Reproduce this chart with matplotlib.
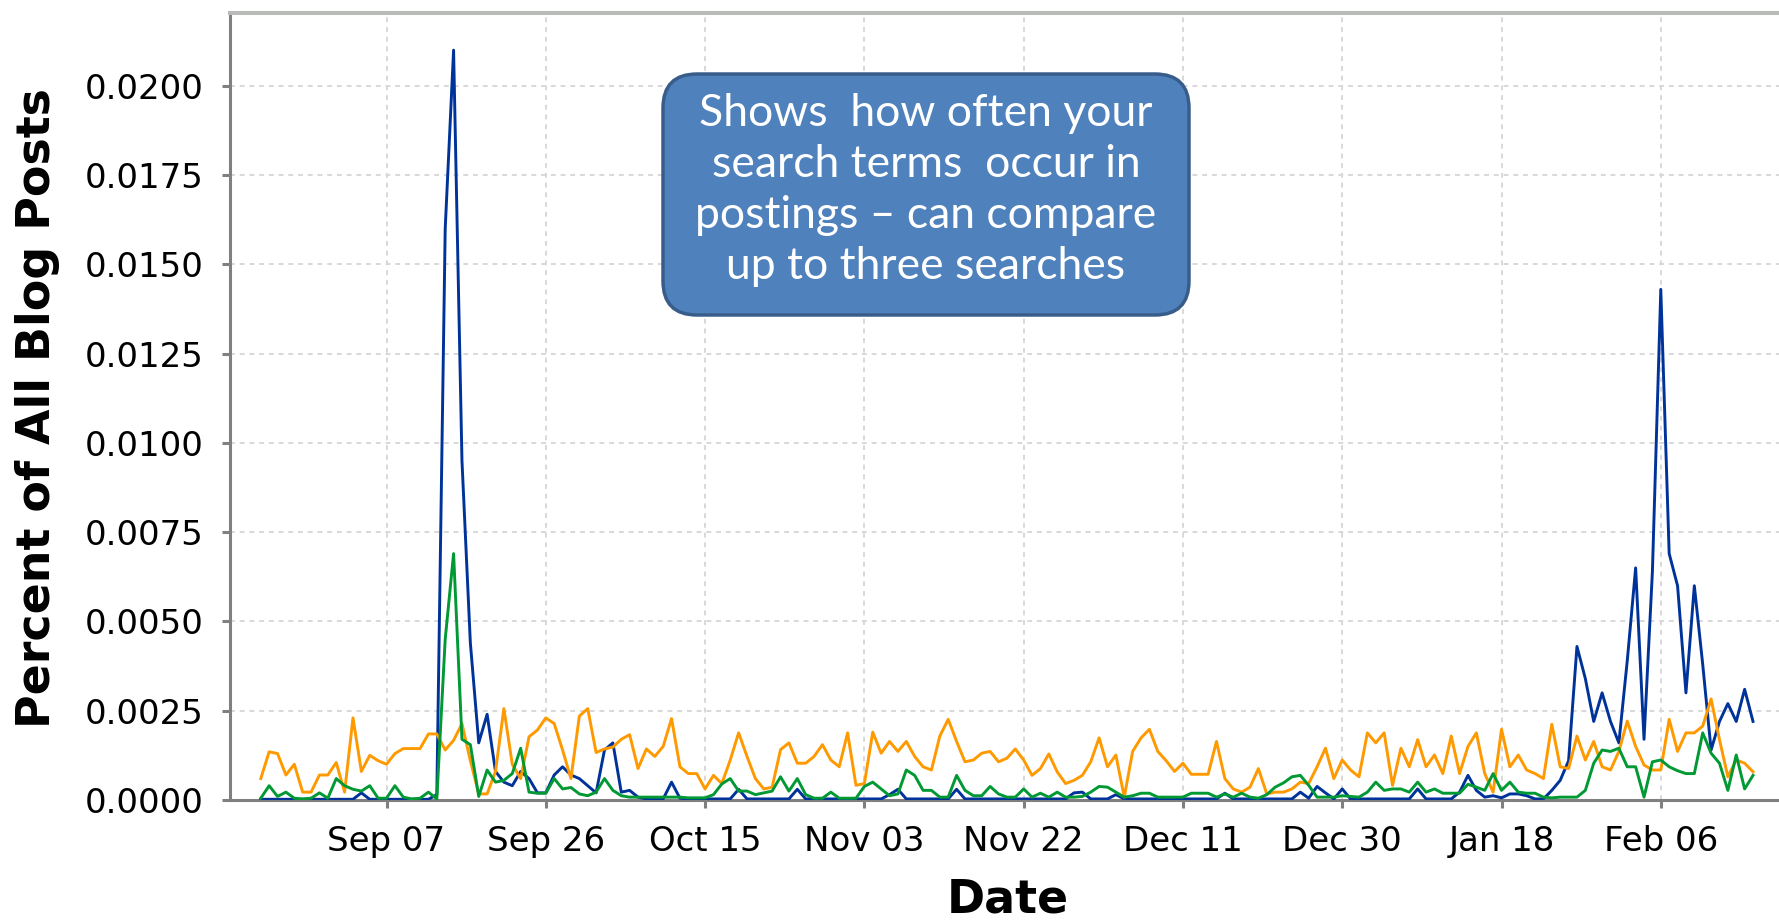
import matplotlib
matplotlib.use("Agg")
import matplotlib.pyplot as plt
import matplotlib.dates as mdates
import matplotlib.transforms as mtransforms
from matplotlib.patches import FancyBboxPatch
import numpy as np
import pandas as pd

# ---------------- data (values in units of 0.0001 percent), daily from start_date ----------------
start_date = "2007-08-23"
scale = 1e-4

series_blue = [
    0.2, 0.2, 0.2, 0.2, 0.2, 0.2, 0.2, 0.2, 0.2, 0.2, 0.2, 0.2, 2.0, 0.2, 0.2,
    0.2, 0.2, 0.2, 0.2, 0.2, 0.2, 1.5, 160, 210, 95, 44, 16, 24, 8, 5,
    4, 8, 6, 2, 2, 7, 9.3, 7, 6, 4, 2, 14, 16, 2.2, 2.7,
    0.8, 0.3, 0.3, 0.3, 5, 0.5, 0.3, 0.3, 0.3, 0.3, 0.3, 0.3, 3, 0.3, 0.3,
    0.3, 0.3, 0.3, 0.3, 3, 0.3, 0.3, 0.3, 0.3, 0.3, 0.3, 0.3, 0.3, 0.3, 0.3,
    1.5, 3, 0.3, 0.3, 0.3, 0.3, 0.3, 0.3, 3, 0.3, 0.3, 0.3, 0.3, 0.3, 0.3,
    0.3, 0.3, 0.3, 0.3, 0.3, 0.3, 0.3, 2, 2.2, 0.3, 0.3, 0.3, 1.5, 0.3, 0.3,
    0.3, 0.3, 0.3, 0.3, 0.3, 0.3, 0.3, 0.3, 0.3, 0.3, 1.9, 0.3, 0.3, 0.3, 0.3,
    0.3, 0.3, 0.3, 0.3, 2.2, 0.5, 3.8, 2, 0.3, 3.1, 0.3, 0.3, 0.3, 0.3, 0.3,
    0.3, 0.3, 0.3, 3.1, 0.3, 0.3, 0.3, 0.3, 2.2, 6.9, 2.7, 0.8, 1.2, 0.6, 1.7,
    1.7, 1.2, 0.3, 0.3, 2.7, 5.5, 11, 43, 34, 22, 30, 22, 16, 39, 65,
    17, 64, 143, 69, 60, 30, 60, 38, 14, 22, 27, 22, 31, 22,
]

series_orange = [
    6, 13.5, 13, 7, 10, 2.2, 2.2, 7, 7, 10.5, 2.2, 23, 8, 12.5, 11,
    10, 13, 14.4, 14.4, 14.4, 18.5, 18.5, 14, 16.7, 21.4, 11, 1.7, 1.7, 8, 25.6,
    10, 6, 17.7, 19.6, 23, 21.4, 14, 6, 23.5, 25.6, 13.3, 14.3, 14.8, 17, 18.3,
    8.8, 14.3, 12.2, 15, 22.8, 9.3, 7.4, 7.4, 3.1, 6.9, 4.6, 11.2, 18.8, 12.2, 6,
    3.1, 3.6, 14.1, 16, 10.3, 10.3, 12.2, 15.5, 11.2, 9.3, 18.8, 4.1, 4.6, 19, 13.1,
    16.4, 13.6, 16.4, 12.2, 9.3, 8.4, 17.9, 22.6, 16.4, 10.7, 11.2, 13.1, 13.6, 10.7, 11.7,
    14.3, 11.2, 6.9, 8.8, 12.9, 7.9, 4.6, 5.5, 6.9, 10.7, 17.4, 9.3, 12.6, 0.8, 13.6,
    17.4, 19.8, 13.6, 11, 8, 10.3, 7.2, 7.2, 7.2, 16.4, 6, 3.1, 2.2, 3.6, 8.8,
    1.7, 2.2, 2.2, 3.1, 5, 4.6, 9.3, 14.5, 6, 11.2, 8.4, 6.5, 18.8, 16, 18.8,
    4.1, 14.5, 9.3, 16.9, 9.3, 12.6, 7.4, 17.9, 7.4, 15, 18.8, 7.4, 2.2, 19.8, 9.3,
    12.6, 8.4, 7.4, 6, 21.2, 9.3, 8.8, 17.9, 11.2, 16.4, 9.3, 8.4, 13.6, 22.1, 15,
    9.8, 8.4, 8.4, 22.6, 13.6, 18.8, 18.8, 20.7, 28.3, 16.9, 6.5, 11.2, 10.3, 7.9,
]

series_green = [
    0.5, 4, 1, 2.2, 0.5, 0.3, 0.5, 2, 0.5, 6, 4, 3, 2.5, 4, 0.5,
    0.5, 4, 0.8, 0.3, 0.5, 2.2, 0.3, 45, 69, 17, 15.5, 1, 8.4, 5, 5.5,
    7.4, 14.5, 2.2, 1.9, 1.9, 6, 3.1, 3.5, 1.7, 1.2, 2.2, 6, 2.7, 1.2, 0.8,
    0.8, 0.8, 0.8, 0.8, 0.8, 0.8, 0.6, 0.6, 0.6, 1.5, 4.5, 6, 2.5, 2.5, 1.5,
    2, 2.5, 6.5, 2.5, 6, 1.5, 0.5, 0.5, 2.2, 0.5, 0.5, 0.5, 3.8, 5, 3.1,
    1.2, 1.7, 8.4, 6.9, 2.7, 2.7, 0.8, 0.8, 6.9, 2.7, 1.2, 1.2, 3.8, 1.7, 0.8,
    0.8, 3.1, 0.8, 1.9, 0.8, 2.2, 0.8, 0.8, 1, 2.2, 3.8, 3.6, 2.2, 0.8, 1.2,
    1.9, 1.9, 0.8, 0.8, 0.8, 0.8, 1.9, 1.9, 1.9, 0.8, 1.7, 0.8, 1.9, 0.8, 0.5,
    1.5, 3.6, 4.8, 6.5, 6.9, 4.1, 0.8, 0.8, 0.8, 1.2, 1, 0.8, 2.2, 5, 2.7,
    3.1, 3.1, 2.2, 5, 2.2, 3.1, 1.9, 1.9, 1.9, 4.4, 3.6, 2.7, 7.4, 2.7, 5,
    2.2, 1.9, 1.9, 0.8, 0.6, 0.8, 0.8, 0.8, 2.7, 10.3, 14, 13.6, 14.5, 9.3, 9.3,
    0.8, 10.7, 11.2, 9.3, 8.2, 7.4, 7.4, 18.8, 13.1, 10.3, 2.7, 12.6, 3.1, 6.9,
]

tick_dates = ["2007-09-07", "2007-09-26", "2007-10-15", "2007-11-03", "2007-11-22",
              "2007-12-11", "2007-12-30", "2008-01-18", "2008-02-06"]
y_ticks = [0.0, 0.0025, 0.0050, 0.0075, 0.0100, 0.0125, 0.0150, 0.0175, 0.0200]

annotation_lines = ["Shows  how often your", "search terms  occur in",
                    "postings \u2013 can compare", "up to three searches"]

# ---------------- figure ----------------
W, H = 1779, 921
fig = plt.figure(figsize=(W / 100, H / 100), dpi=100)
fig.patch.set_facecolor("white")

ax_left, ax_right, ax_top, ax_bottom = 230, 1779, 13, 800
ax = fig.add_axes([ax_left / W, 1 - ax_bottom / H, (ax_right - ax_left) / W, (ax_bottom - ax_top) / H])

blue_c, orange_c, green_c = "#003399", "#ff9900", "#009933"
for vals, col in [(series_blue, blue_c), (series_orange, orange_c), (series_green, green_c)]:
    d = pd.date_range(start_date, periods=len(vals), freq="D")
    ax.plot(d, np.array(vals) * scale, color=col, lw=2.1, zorder=3)

ref = mdates.date2num(pd.Timestamp("2007-09-07"))
ax.set_xlim(ref - 18.67, ref + 166.1)
ax.set_ylim(0, 0.02204)

ax.set_xticks([mdates.date2num(pd.Timestamp(t)) for t in tick_dates])
ax.xaxis.set_major_formatter(mdates.DateFormatter("%b %d"))
ax.set_yticks(y_ticks)
ax.set_yticklabels(["%.4f" % v for v in y_ticks])

for lab in ax.get_xticklabels() + ax.get_yticklabels():
    lab.set_fontsize(24.5)
    lab.set_family("DejaVu Sans")
    lab.set_color("black")

ax.tick_params(axis="both", direction="out", length=6, width=2.2, color="#808080")
ax.tick_params(axis="y", pad=13)
ax.tick_params(axis="x", pad=12)

ax.grid(True, color="#d8d8dc", lw=1.4, linestyle=(0, (2.5, 2.5)), zorder=0)
ax.set_axisbelow(True)

ax.spines["right"].set_visible(False)
ax.spines["top"].set_color("#b9bbb8")
ax.spines["top"].set_linewidth(2.9)
ax.spines["left"].set_color("#808080")
ax.spines["left"].set_linewidth(2.2)
ax.spines["bottom"].set_color("#808080")
ax.spines["bottom"].set_linewidth(2.2)

# axis titles
fig.text(38 / W, 1 - 408 / H, "Percent of All Blog Posts", rotation=90,
         ha="center", va="center", fontsize=33, fontweight="bold", family="DejaVu Sans")
fig.text(1008 / W, 1 - 912 / H, "Date", ha="center", va="baseline",
         fontsize=33, fontweight="bold", family="DejaVu Sans")

# annotation callout box (pixel coordinates)
bx0, by0, bx1, by1 = 663, 74, 1189, 315
box = FancyBboxPatch((bx0, H - by1), bx1 - bx0, by1 - by0,
                     boxstyle="round,pad=0,rounding_size=34",
                     facecolor="#4f81bd", edgecolor="#385d8a", lw=2.5,
                     transform=mtransforms.IdentityTransform(), zorder=10)
fig.add_artist(box)
line_y = [113.5, 164.5, 215.6, 266.6]
for txt, yy in zip(annotation_lines, line_y):
    fig.text(926 / W, 1 - yy / H, txt, ha="center", va="center", color="white",
             fontsize=32, family=["Lato", "DejaVu Sans"], zorder=11)

fig.savefig("out.png", dpi=100, facecolor="white")
